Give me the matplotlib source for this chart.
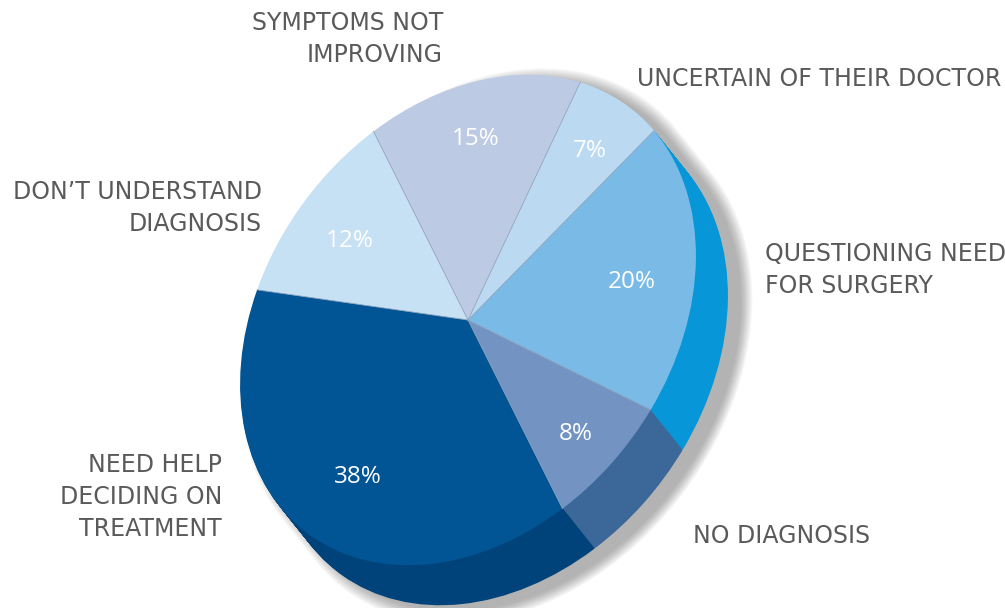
import numpy as np
import matplotlib
matplotlib.use('Agg')
import matplotlib.pyplot as plt
from matplotlib.transforms import Affine2D
from matplotlib.patches import Polygon

# slices, clockwise from the left
labels = ['DON\u2019T UNDERSTAND\nDIAGNOSIS', 'SYMPTOMS NOT\nIMPROVING', 'UNCERTAIN OF THEIR DOCTOR',
          'QUESTIONING NEED\nFOR SURGERY', 'NO DIAGNOSIS', 'NEED HELP\nDECIDING ON\nTREATMENT']
shares = [12, 15, 7, 20, 8, 38]
pct_text = ['12%', '15%', '7%', '20%', '8%', '38%']

top_colors = ['#c6e0f4', '#bdcae3', '#bbdaf1', '#79bbe6', '#7394c2', '#015594']
side_colors = ['#a9c9e3', '#a0b0d0', '#9cc6e8', '#0796d7', '#3b6899', '#00437a']

# outer label placement (pixels, y up) and alignment
label_xy = [(262, 400), (443, 569), (637, 529), (765, 338), (693, 72), (222, 111)]
label_ha = ['right', 'right', 'left', 'left', 'left', 'right']
pct_r = [0.72, 0.78, 0.8, 0.72, 0.75, 0.7]

W, H = 1005, 608
fig = plt.figure(figsize=(W / 100, H / 100), dpi=100)
ax = fig.add_axes([0, 0, 1, 1])

# tilted pie: unit circle -> ellipse
cx, cy = 468, 288
rx, ry, tilt = 267, 202, 52.8
start = 112.8
depth = np.array([32.0, -40.0])
face = Affine2D().scale(rx, ry).rotate_deg(tilt).translate(cx, cy)

# outline of the extruded body (for the shadow)
t = np.linspace(0, 2 * np.pi, 721)
u = np.column_stack([np.cos(t), np.sin(t)])
M = face.get_matrix()[:2, :2]
w = np.linalg.solve(M, depth)
body = face.transform(u)
body[u @ w > 0] += depth
c = body.mean(axis=0)
for k in range(20):
    poly = c + (body - c) * (1 + k * 0.0025) + np.array([13, -6])
    ax.add_patch(Polygon(poly, closed=True, fc='#4a4a4a', ec='none', alpha=0.022))

# side of the pie: stacked darker copies
for s in np.linspace(1, 0.02, 40):
    wedges, _ = ax.pie(shares, colors=side_colors, startangle=start, counterclock=False,
                       wedgeprops=dict(linewidth=0))
    shift = Affine2D().translate(depth[0] * s, depth[1] * s)
    for wd in wedges:
        wd.set_transform(face + shift + ax.transData)

# top face
wedges, _ = ax.pie(shares, colors=top_colors, startangle=start, counterclock=False,
                   wedgeprops=dict(linewidth=0))
for wd in wedges:
    wd.set_transform(face + ax.transData)

cum = np.concatenate([[0], np.cumsum(shares)])
for b in cum[:-1]:
    a = np.radians(start - 3.6 * b)
    ax.plot([0, np.cos(a)], [0, np.sin(a)], color='#95a6bf', lw=0.6,
            transform=face + ax.transData)

for i, sh in enumerate(shares):
    a = np.radians(start - 3.6 * (cum[i] + sh / 2))
    x, y = face.transform([pct_r[i] * np.cos(a), pct_r[i] * np.sin(a)])
    ax.text(x, y - 6, pct_text[i], color='white', fontsize=17.5, family='Open Sans',
            ha='center', va='center')

for i, lab in enumerate(labels):
    ax.text(label_xy[i][0], label_xy[i][1], lab, color='#5a5a5a', fontsize=17,
            family='DejaVu Sans', ha=label_ha[i], va='center',
            multialignment=label_ha[i], linespacing=1.4)

ax.set_xlim(0, W)
ax.set_ylim(0, H)
ax.axis('off')
fig.savefig('out.png', dpi=100, facecolor='white')
